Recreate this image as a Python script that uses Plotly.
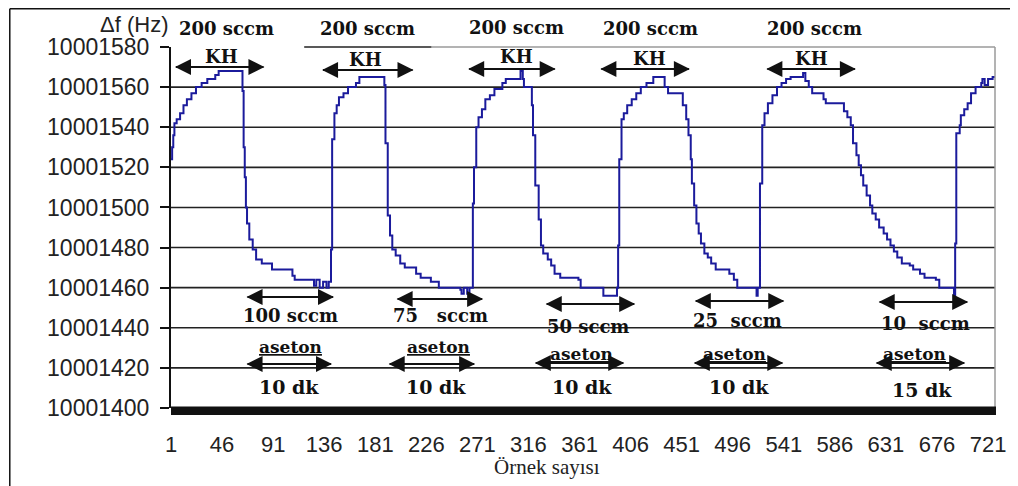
import plotly.graph_objects as go

# ---------------- data ----------------
sample = [1, 2, 3, 4, 6, 9, 12, 15, 19, 23, 28, 33, 40, 43, 63,
          64, 65, 66, 67, 68, 70, 73, 76, 81, 90, 108, 110, 127, 129, 132, 135, 138, 140,
          142, 143, 145, 147, 149, 153, 157, 164, 167, 188,
          189, 190, 192, 194, 196, 199, 203, 207, 217, 221, 230, 237, 256, 257, 259, 262, 264,
          267, 268, 270, 272, 275, 278, 282, 286, 293, 296, 307, 309, 311, 312, 318,
          319, 320, 322, 325, 327, 329, 333, 336, 339, 344, 360, 362, 380, 382, 392, 394,
          395, 396, 398, 400, 403, 407, 411, 415, 420, 426, 435,
          436, 439, 449, 452, 455, 457, 459, 460, 462, 464, 466, 468, 471, 474, 477, 481, 493,
          497, 500, 516, 517, 518,
          520, 522, 524, 527, 531, 535, 539, 543, 547, 557, 558, 560, 563, 566, 576, 578, 592,
          594, 597, 600, 602, 605, 607, 609, 611, 614, 617, 619, 622, 625, 629, 632, 635, 638,
          641, 645, 652, 655, 661, 665, 675, 678, 690, 691,
          692, 693, 696, 697, 700, 703, 706, 710, 715, 716, 718, 721, 725, 728]
freq = [10001524, 10001530, 10001536, 10001542, 10001544, 10001547, 10001551, 10001554,
        10001557, 10001560, 10001562, 10001564, 10001566, 10001568, 10001568,
        10001558, 10001530, 10001515, 10001500, 10001492, 10001484, 10001479, 10001474,
        10001472, 10001469, 10001466, 10001464, 10001461, 10001464, 10001460, 10001463,
        10001460, 10001463,
        10001479, 10001534, 10001547, 10001551, 10001555, 10001557, 10001560, 10001562,
        10001565, 10001565,
        10001561, 10001532, 10001496, 10001486, 10001479, 10001476, 10001472, 10001470,
        10001467, 10001465, 10001463, 10001460, 10001459, 10001457, 10001460, 10001457,
        10001460,
        10001502, 10001520, 10001540, 10001545, 10001549, 10001554, 10001556, 10001559,
        10001562, 10001564, 10001564, 10001568, 10001564, 10001560, 10001560,
        10001551, 10001536, 10001511, 10001494, 10001481, 10001477, 10001474, 10001471,
        10001467, 10001465, 10001464, 10001460, 10001460, 10001456, 10001456, 10001460,
        10001481, 10001524, 10001544, 10001547, 10001551, 10001554, 10001557, 10001560,
        10001562, 10001565, 10001565,
        10001560, 10001557, 10001557, 10001551, 10001544, 10001536, 10001524, 10001512,
        10001501, 10001492, 10001487, 10001482, 10001477, 10001475, 10001472, 10001469,
        10001467,
        10001464, 10001460, 10001460, 10001456, 10001460,
        10001512, 10001541, 10001547, 10001552, 10001556, 10001560, 10001562, 10001564,
        10001565, 10001565, 10001567, 10001563, 10001560, 10001557, 10001554, 10001552,
        10001552,
        10001548, 10001545, 10001541, 10001532, 10001526, 10001521, 10001516, 10001511,
        10001506, 10001501, 10001497, 10001494, 10001490, 10001487, 10001484, 10001481,
        10001478, 10001475, 10001472, 10001471, 10001469, 10001467, 10001465, 10001464,
        10001460, 10001460, 10001456,
        10001482, 10001537, 10001541, 10001546, 10001549, 10001552, 10001557, 10001560,
        10001562, 10001564, 10001561, 10001564, 10001565, 10001565]

x_ticks = [1, 46, 91, 136, 181, 226, 271, 316, 361, 406, 451, 496, 541, 586, 631, 676, 721]
y_ticks = [10001400, 10001420, 10001440, 10001460, 10001480, 10001500,
           10001520, 10001540, 10001560, 10001580]

top_flow = ["200 sccm", "200 sccm", "200 sccm", "200 sccm", "200 sccm"]
top_gas = ["KH", "KH", "KH", "KH", "KH"]
acetone_flow = ["100 sccm", "75   sccm", "50 sccm", "25  sccm", "10  sccm"]
acetone_label = ["aseton", "aseton", "aseton", "aseton", "aseton"]
durations = ["10 dk", "10 dk", "10 dk", "10 dk", "15 dk"]

# ---------------- layout geometry (page pixels) ----------------
OFF = 8                      # page body margin
WIN_W, WIN_H = 1018, 486
W, H = WIN_W - OFF, WIN_H - OFF
PL, PR, PT, PB = 171, 1000, 47, 408   # plot area in page pixels


def fx(px):
    return (px - PL) / (PR - PL)


def fy(py):
    return (PB - py) / (PB - PT)


fig = go.Figure()
fig.add_trace(go.Scatter(
    x=sample, y=freq, mode="lines", line=dict(color="#1b1b9c", width=2, shape="hv"),
    hoverinfo="skip", showlegend=False))

shapes = []
for v in y_ticks[1:-1]:
    shapes.append(dict(type="line", xref="paper", yref="y", x0=0, x1=1, y0=v, y1=v,
                       line=dict(color="#222222", width=1.6), layer="below"))
shapes.append(dict(type="line", xref="paper", yref="paper", x0=1, x1=1, y0=0, y1=1,
                   line=dict(color="#9a9a9a", width=1.5)))
shapes.append(dict(type="line", xref="paper", yref="paper", x0=fx(433), x1=1, y0=1, y1=1,
                   line=dict(color="#9a9a9a", width=1.5)))
shapes.append(dict(type="line", xref="paper", yref="paper", x0=fx(305), x1=fx(433), y0=1, y1=1,
                   line=dict(color="#222222", width=1.6)))
shapes.append(dict(type="rect", xref="paper", yref="paper", x0=0, x1=fx(1001), y0=fy(406.5), y1=fy(415),
                   fillcolor="#111111", line=dict(width=0)))
shapes.append(dict(type="line", xref="paper", yref="paper", x0=fx(8.8), x1=fx(1020), y0=fy(8.8), y1=fy(8.8),
                   line=dict(color="#111111", width=1.5)))
shapes.append(dict(type="line", xref="paper", yref="paper", x0=fx(8.8), x1=fx(8.8), y0=fy(8.8), y1=fy(490),
                   line=dict(color="#111111", width=1.5)))

ann = []
SERIF = "DejaVu Serif"


def text(px, py, s, size=18, fam=SERIF, color="#111111"):
    ann.append(dict(xref="paper", yref="paper", x=fx(px), y=fy(py), text=s, showarrow=False,
                    xanchor="center", yanchor="middle",
                    font=dict(family=fam, size=size, color=color)))


def darrow(p0, p1, py):
    for a, b in ((p0, p1), (p1, p0)):
        ann.append(dict(xref="paper", yref="paper", x=fx(b), y=fy(py), ax=a - b, ay=0,
                        axref="pixel", ayref="pixel", text="", showarrow=True,
                        arrowhead=2, arrowsize=1.6, arrowwidth=2, arrowcolor="#111111",
                        standoff=0))


top_flow_pos = [(227, 28), (369, 28), (519, 27), (653, 28), (818, 28)]
top_gas_pos = [(222, 57), (367, 59), (519, 57), (652, 58), (815, 58)]
top_arrows = [(175, 265, 67), (323, 415, 70), (470, 558, 69), (603, 693, 69), (770, 860, 69)]
for s, p in zip(top_flow, top_flow_pos):
    text(p[0], p[1], "<b>" + s + "</b>", 18)
for s, p in zip(top_gas, top_gas_pos):
    text(p[0], p[1], "<b>" + s + "</b>", 18)
for a in top_arrows:
    darrow(*a)

flow_pos = [(291, 315), (442, 315), (591, 326), (741, 320), (930, 323)]
aset_pos = [(291, 347), (440, 347), (584, 354), (738, 354), (919, 354)]
dur_pos = [(290, 387), (438, 387), (584, 387), (742, 387), (927, 390)]
row1 = [(247, 335, 297), (398, 485, 299), (548, 638, 304), (698, 788, 301), (883, 973, 302)]
row2 = [(247, 333, 364), (390, 477, 364), (537, 627, 363), (697, 787, 363), (880, 970, 363)]
for s, p in zip(acetone_flow, flow_pos):
    text(p[0], p[1], "<b>" + s.replace(" ", "&nbsp;") + "</b>", 18)
for s, p in zip(acetone_label, aset_pos):
    text(p[0], p[1], "<b><u>" + s + "</u></b>", 17)
for s, p in zip(durations, dur_pos):
    text(p[0], p[1], "<b>" + s + "</b>", 19)
for a in row1 + row2:
    darrow(*a)

text(134, 25, "Δf (Hz)", 22, "Liberation Sans", "#222222")
text(549, 467, "Örnek sayısı", 21, "Liberation Serif", "#222222")

fig.update_layout(
    width=W, height=H,
    margin=dict(l=PL - OFF, r=WIN_W - PR, t=PT - OFF, b=(OFF + H) - PB),
    paper_bgcolor="white", plot_bgcolor="white",
    shapes=shapes, annotations=ann,
    xaxis=dict(range=[1, 1 + (PR - PL) / 1.1417], tickmode="array", tickvals=x_ticks,
               ticktext=[str(t) for t in x_ticks], showgrid=False, zeroline=False,
               showline=False, ticks="", ticklabelstandoff=21,
               tickfont=dict(family="Liberation Sans Narrow, Liberation Sans", size=22, color="#222222")),
    yaxis=dict(range=[y_ticks[0], y_ticks[-1]], tickmode="array", tickvals=y_ticks,
               ticktext=[str(t) for t in y_ticks], showgrid=False, zeroline=False,
               showline=True, linecolor="#111111", linewidth=2,
               ticks="outside", ticklen=9, tickwidth=1.6, tickcolor="#111111",
               ticklabelstandoff=6,
               tickfont=dict(family="Liberation Sans", size=23, color="#222222")),
)

fig.write_html("out.html")
